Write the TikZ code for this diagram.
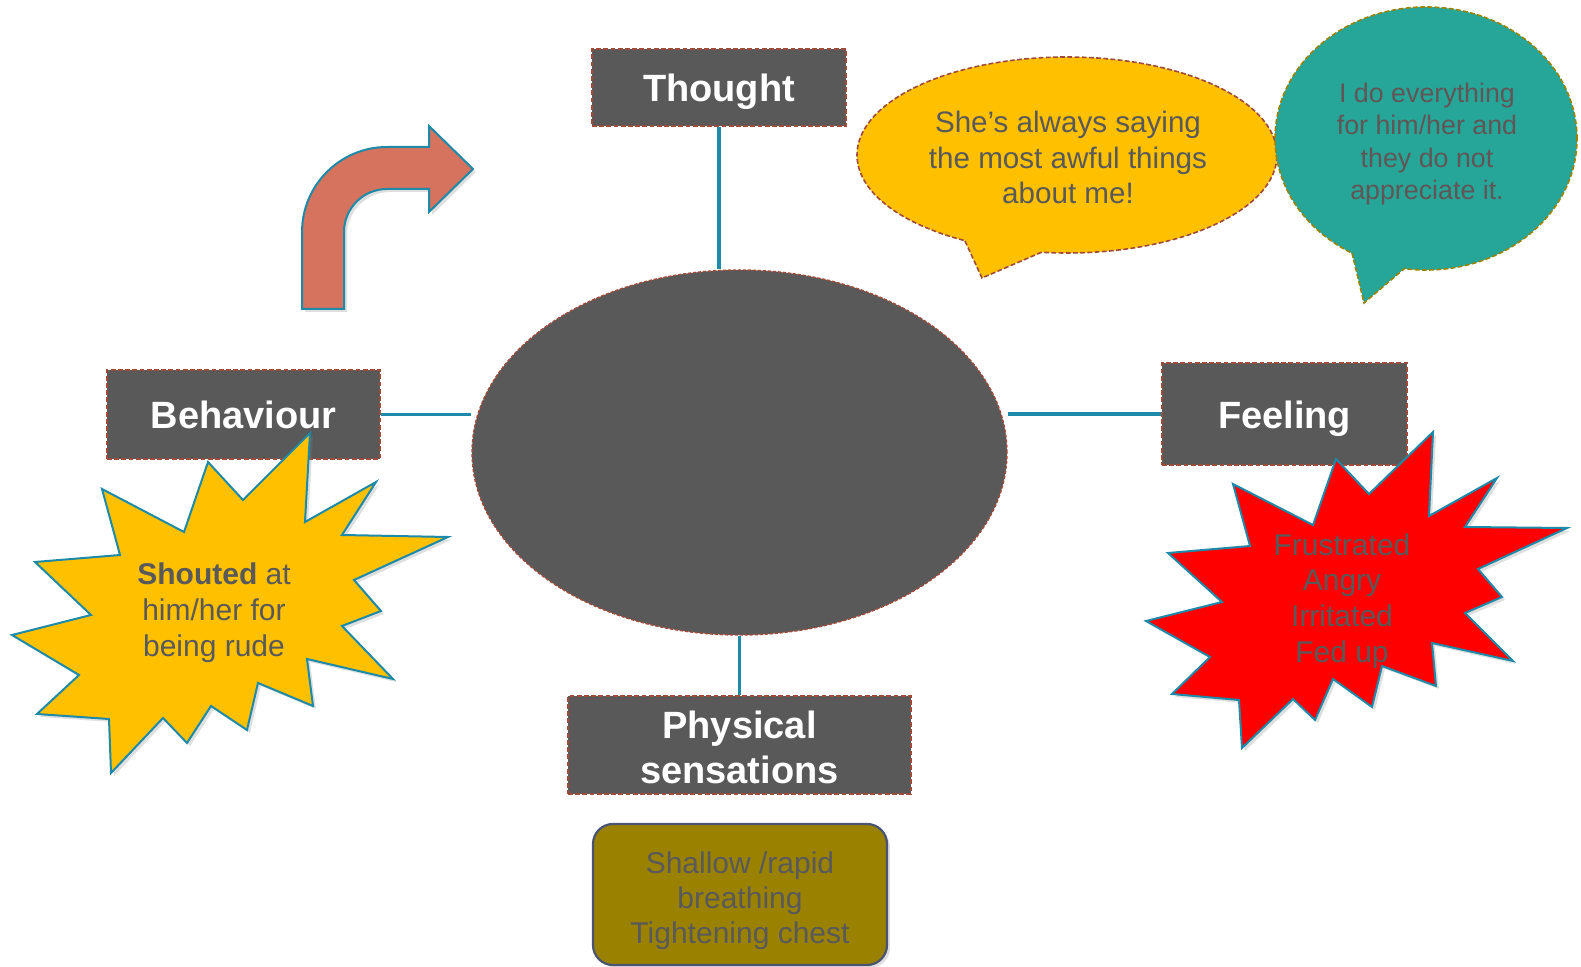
\documentclass[tikz,border=0pt]{standalone}
\usepackage{fontspec}
\setmainfont{Liberation Sans}
\usetikzlibrary{shapes.geometric,shadows}
\definecolor{darkbox}{HTML}{595959}
\definecolor{dashbrown}{HTML}{A04A3A}
\definecolor{linkblue}{HTML}{1C8AA8}
\definecolor{arrowfill}{HTML}{D5735E}
\definecolor{sunny}{HTML}{FFC000}
\definecolor{redburst}{HTML}{FF0000}
\definecolor{tealb}{HTML}{26A699}
\definecolor{olivebox}{HTML}{9A8200}
\definecolor{olivedash}{HTML}{9A8200}
\definecolor{textgray}{HTML}{595959}
\definecolor{boxedge}{HTML}{4A5470}
\pgfdeclarelayer{bg}
\pgfsetlayers{bg,main}
\begin{document}
\begin{tikzpicture}[x=0.5pt,y=-0.5pt,
  titlebox/.style={fill=darkbox, draw=dashbrown, dash pattern=on 2.4pt off 1.2pt, line width=0.8pt, text=white, font=\bfseries\fontsize{19}{22.2}\selectfont, align=center, inner sep=0pt},
  oneline/.style={text height=14.5pt, text depth=0pt},
  link/.style={draw=linkblue, line width=1.6pt},
  softshadow/.style={drop shadow={opacity=0.25, shadow xshift=1.5pt, shadow yshift=-1.5pt}},
  burst/.style={draw=linkblue, line width=1pt, line join=miter, softshadow},
  bodytext/.style={text=textgray, align=center, inner sep=0pt},
  bubbleline/.style={dash pattern=on 2.4pt off 1.2pt, line width=0.8pt},
]
\useasboundingbox (0,0) rectangle (1581,967);

% title boxes
\node[titlebox, oneline, minimum width=127pt, minimum height=38.5pt] (thought) at (719,87.5) {Thought};
\node[titlebox, oneline, minimum width=136.5pt, minimum height=44.5pt] (behaviour) at (243.5,414.5) {Behaviour};
\node[titlebox, oneline, minimum width=122.5pt, minimum height=51pt] (feeling) at (1284.5,414) {Feeling};
\node[titlebox, minimum width=171.5pt, minimum height=49pt] (physical) at (739.5,745) {\raisebox{-3.5pt}[\height][\depth]{\begin{tabular}{@{}c@{}}Physical\\sensations\end{tabular}}};

% central ellipse
\node[ellipse, fill=darkbox, draw=dashbrown, dash pattern=on 1.6pt off 0.9pt, line width=0.7pt, minimum width=267.5pt, minimum height=182.5pt, inner sep=0pt] (core) at (739.5,452.5) {};

% connectors
\begin{pgfonlayer}{bg}
\draw[link] (thought.south) -- (thought.south |- core.north);
\draw[link] (behaviour.east) -- (behaviour.east -| core.west);
\draw[link] (feeling.west) -- (feeling.west -| core.east);
\draw[link] (physical.north) -- (core.south);
\end{pgfonlayer}

% bottom rounded box
\node[rounded corners=10pt, fill=olivebox, draw=boxedge, line width=1.1pt, minimum width=147pt, minimum height=70.5pt, softshadow] (breath) at (740,894.5) {};
\node[bodytext, font=\fontsize{15}{17.6}\selectfont] (breathtext) at ([yshift=-3pt]breath.center) {Shallow /rapid\\breathing\\Tightening chest};

% bent arrow
\draw[draw=linkblue, line width=1pt, fill=arrowfill, line join=miter, softshadow]
  (302,309) -- (302,232) .. controls (302,185.1) and (340.1,147) .. (387,147)
  -- (429,147) -- (429,126) -- (473,169) -- (429,212) -- (429,189) -- (387,189)
  .. controls (363.3,189) and (344,208.3) .. (344,232) -- (344,309) -- cycle;

% yellow speech bubble
\path[fill=sunny, draw=dashbrown, bubbleline] (1067,155) ellipse [x radius=105pt, y radius=49pt];
\fill[sunny] (965,241) -- (982,278) -- (1042,252) -- (1040,232) -- (968,224) -- cycle;
\draw[dashbrown, bubbleline] (965,241) -- (982,278) -- (1042,252);
\node[bodytext, font=\fontsize{14.8}{17.6}\selectfont] (yellowtext) at (1068,157.5) {She’s always saying\\the most awful things\\about me!};

% teal speech bubble
\path[fill=tealb, draw=olivedash, bubbleline] (1426,138.5) ellipse [x radius=75.5pt, y radius=65.75pt];
\fill[tealb] (1352,253) -- (1364,303) -- (1405,268) -- (1403,250) -- (1356,238) -- cycle;
\draw[olivedash, bubbleline] (1352,253) -- (1364,303) -- (1405,268);
\node[bodytext, text=textgray!95!red, font=\fontsize{13.4}{16.2}\selectfont] (tealtext) at (1427,144) {I do everything\\for him/her and\\they do not\\appreciate it.};

% yellow starburst (behaviour)
\draw[burst, fill=sunny] (310,433) -- (305,522) -- (376,482) -- (342,535) -- (448,537) -- (354,580)
  -- (381,611) -- (342,626) -- (393,679) -- (307,659) -- (313,706) -- (258,683) -- (247,730)
  -- (211,706) -- (187,743) -- (163,718) -- (111,773) -- (109,719) -- (37,714) -- (79,675)
  -- (12,635) -- (91,615) -- (35,562) -- (120,555) -- (102,489) -- (184,532) -- (208,462)
  -- (243,500) -- cycle;
\node[bodytext, font=\fontsize{15}{17.9}\selectfont] (shout) at (214,613) {\textbf{Shouted} at\\him/her for\\being rude};

% red starburst (feeling)
\draw[burst, fill=redburst] (1433,432) -- (1429,516) -- (1497,478) -- (1465,527) -- (1567,528)
  -- (1478,569) -- (1502,597) -- (1465,613) -- (1513,661) -- (1432,643) -- (1436,686)
  -- (1382,666) -- (1372,707) -- (1333,679) -- (1315,720) -- (1293,699) -- (1242,748)
  -- (1239,700) -- (1172,694) -- (1210,657) -- (1146,621) -- (1222,602) -- (1168,553)
  -- (1250,546) -- (1233,484) -- (1313,525) -- (1336,459) -- (1369,494) -- cycle;
\node[bodytext, font=\fontsize{15}{17.9}\selectfont] (anger) at (1342,601) {Frustrated\\Angry\\Irritated\\Fed up};
\end{tikzpicture}
\end{document}
